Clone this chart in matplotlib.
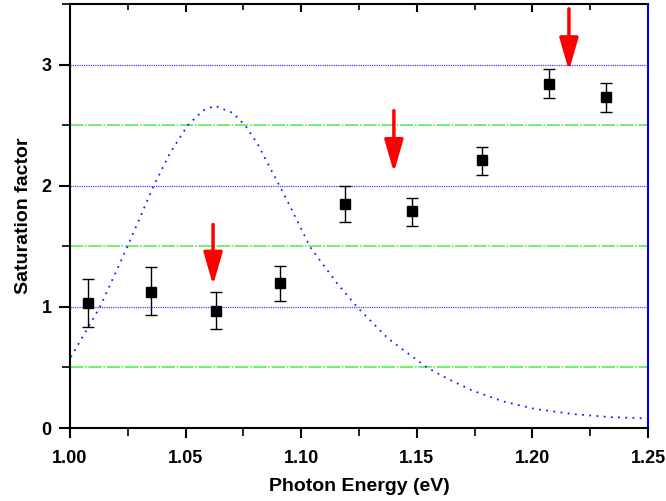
import matplotlib
matplotlib.use("Agg")
import matplotlib.pyplot as plt
from matplotlib.ticker import MultipleLocator

plt.rcParams['font.family'] = ['Liberation Sans', 'DejaVu Sans']
plt.rcParams['font.weight'] = 'bold'

# measured data
energy = [1.0078, 1.035, 1.063, 1.091, 1.119, 1.148, 1.178, 1.207, 1.232]
saturation = [1.03, 1.12, 0.965, 1.195, 1.85, 1.79, 2.21, 2.84, 2.73]
err_upper = [0.20, 0.21, 0.155, 0.145, 0.15, 0.11, 0.11, 0.12, 0.12]
err_lower = [0.20, 0.19, 0.145, 0.145, 0.15, 0.12, 0.12, 0.12, 0.12]

# dotted spectrum curve
curve_x = [1.0004, 1.013, 1.0247, 1.036, 1.0433, 1.051, 1.0575, 1.0627, 1.0705,
           1.0757, 1.081, 1.0939, 1.104, 1.1155, 1.1246, 1.1375, 1.1544, 1.163,
           1.1739, 1.1873, 1.2011, 1.2176, 1.2336, 1.2487]
curve_y = [0.585, 1.0, 1.49, 1.99, 2.27, 2.50, 2.62, 2.66, 2.60,
           2.50, 2.35, 1.88, 1.49, 1.195, 0.99, 0.74, 0.50, 0.41,
           0.31, 0.22, 0.157, 0.115, 0.09, 0.08]

# red arrows (x, tail y, tip y)
arrow_x = [1.0619, 1.1401, 1.2158]
arrow_tail = [1.68, 2.62, 3.46]
arrow_tip = [1.18, 2.11, 2.95]

grid_blue = [1, 2, 3]
grid_green = [0.5, 1.5, 2.5]

x_ticks = [1.0, 1.05, 1.10, 1.15, 1.20, 1.25]
x_minor_ticks = [1.025, 1.075, 1.125, 1.175, 1.225]
x_ticklabels = ['1.00', '1.05', '1.10', '1.15', '1.20', '1.25']

fig = plt.figure(figsize=(6.66, 5.01), dpi=100)
ax = fig.add_axes([0.105, 0.1457, 0.868, 0.8463])

for g in grid_blue:
    ax.axhline(g, color='#4444ff', lw=0.9, ls=(0, (1, 0.8)), zorder=1)
for g in grid_green:
    ax.axhline(g, color='#55ee55', lw=1.2, ls=(0, (8, 1, 1, 1)), zorder=1)

ax.plot(curve_x, curve_y, color='#1a1aff', lw=1.3, ls=(0, (1, 3)), zorder=2)

ax.errorbar(energy, saturation, yerr=[err_lower, err_upper], fmt='s', color='black',
            ms=7.5, ecolor='black', elinewidth=1.0, capsize=4.5, capthick=1.0, zorder=3)

for x, t0, t1 in zip(arrow_x, arrow_tail, arrow_tip):
    ax.annotate('', xy=(x, t1), xytext=(x, t0),
                arrowprops=dict(arrowstyle='-|>,head_length=1.1,head_width=0.32',
                                color='#ff0000', lw=2.5, mutation_scale=18,
                                shrinkA=0, shrinkB=0), zorder=4)

ax.set_xlim(1.0, 1.25)
ax.set_ylim(0, 3.5)
ax.set_xticks(x_ticks)
ax.set_xticklabels(x_ticklabels)
ax.set_xticks(x_minor_ticks, minor=True)
ax.yaxis.set_major_locator(MultipleLocator(1))
ax.yaxis.set_minor_locator(MultipleLocator(0.5))

for s in ['left', 'bottom', 'top']:
    ax.spines[s].set_linewidth(1.5)
ax.spines['right'].set_color('#0000ff')
ax.spines['right'].set_linewidth(1.5)

ax.tick_params(axis='both', which='major', labelsize=13, width=1.5)
ax.tick_params(axis='x', which='major', direction='out', length=7, pad=9, top=False)
ax.tick_params(axis='x', which='minor', direction='out', length=6, width=1.2, top=False)
ax.tick_params(axis='y', which='major', direction='out', length=8, pad=5, right=False)
ax.tick_params(axis='y', which='minor', direction='out', length=6, width=1.2, right=False)

# inward ticks along the top spine
xt = ax.get_xaxis_transform()
ax.vlines(x_ticks[1:-1], 1 - 8 / 424, 1, transform=xt, colors='black', lw=1.5,
          clip_on=False, zorder=5)
ax.vlines(x_minor_ticks, 1 - 6 / 424, 1, transform=xt, colors='black', lw=1.2,
          clip_on=False, zorder=5)

ax.set_xlabel('Photon Energy (eV)', fontsize=14, fontweight='bold', labelpad=8)
ax.set_ylabel('Saturation factor', fontsize=14, fontweight='bold', labelpad=7)

fig.savefig('out.png', dpi=100)
